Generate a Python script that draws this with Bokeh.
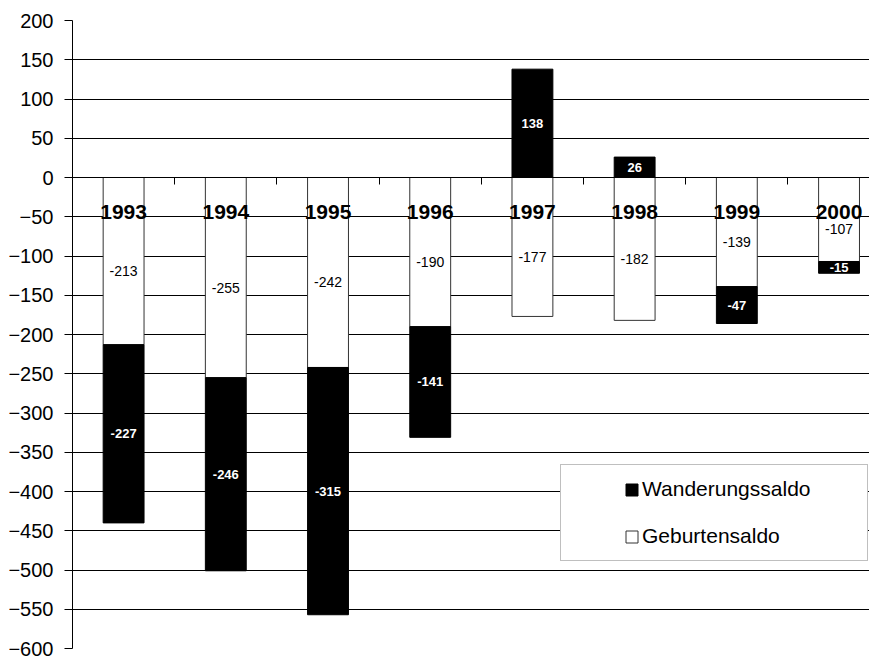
from bokeh.plotting import figure
from bokeh.models import Range1d, FixedTicker, Legend, LegendItem
from bokeh.core.properties import value
from bokeh.embed import file_html
from bokeh.resources import INLINE

years = ["1993", "1994", "1995", "1996", "1997", "1998", "1999", "2000"]
geburtensaldo = [-213, -255, -242, -190, -177, -182, -139, -107]
wanderungssaldo = [-227, -246, -315, -141, 138, 26, -47, -15]
y_ticks = list(range(-600, 201, 50))

FONT = "Liberation Sans"

xs = list(range(len(years)))
w_bottom = [g if w < 0 else 0 for g, w in zip(geburtensaldo, wanderungssaldo)]
w_top = [b + w for b, w in zip(w_bottom, wanderungssaldo)]
w_mid = [(b + t) / 2 for b, t in zip(w_bottom, w_top)]
g_mid = [g / 2 for g in geburtensaldo]

p = figure(width=869, height=660, output_backend="svg", toolbar_location=None,
           x_range=Range1d(-0.5, 7.298), y_range=Range1d(-600, 200),
           min_border_left=72, min_border_right=0, min_border_top=20, min_border_bottom=12)
p.outline_line_color = None
p.background_fill_color = "white"
p.border_fill_color = "white"

# grid
p.xgrid.visible = False
p.ygrid.ticker = FixedTicker(ticks=y_ticks)
p.ygrid.grid_line_color = "black"
p.ygrid.grid_line_width = 1

# y axis
p.yaxis.ticker = FixedTicker(ticks=y_ticks)
p.yaxis.major_tick_out = 8
p.yaxis.major_tick_in = 0
p.yaxis.minor_tick_line_color = None
p.yaxis.axis_line_color = "black"
p.yaxis.major_tick_line_color = "black"
p.yaxis.major_label_text_font = FONT
p.yaxis.major_label_text_font_size = "20px"
p.yaxis.major_label_text_color = "black"
p.yaxis.major_label_standoff = 11

# x axis at zero
p.xaxis.fixed_location = 0
p.xaxis.ticker = FixedTicker(ticks=[i + 0.5 for i in xs])
p.xaxis.major_tick_out = 7
p.xaxis.major_tick_in = 0
p.xaxis.minor_tick_line_color = None
p.xaxis.axis_line_color = "black"
p.xaxis.major_tick_line_color = "black"
p.xaxis.major_label_text_font_size = "0px"
p.xaxis.major_label_text_color = None
p.xaxis.major_label_standoff = 0

# bars
r_g = p.vbar(x=xs, top=[0] * len(xs), bottom=geburtensaldo, width=0.4,
             fill_color="white", line_color="#333333", line_width=1)
r_w = p.vbar(x=xs, top=w_top, bottom=w_bottom, width=0.4,
             fill_color="black", line_color="black", line_width=1)

# value labels
p.text(x=xs, y=g_mid, text=[str(v) for v in geburtensaldo], text_align="center",
       text_baseline="middle", y_offset=10, text_font=value(FONT),
       text_font_size="14px", text_color="black")
p.text(x=xs, y=w_mid, text=[str(v) for v in wanderungssaldo], text_align="center",
       text_baseline="middle", text_font=value(FONT), text_font_size="13px",
       text_font_style="bold", text_color="white")

# year labels below the zero axis
p.text(x=xs, y=[0] * len(xs), text=years, text_align="center", text_baseline="top",
       y_offset=27, text_font=value(FONT), text_font_size="21px",
       text_font_style="bold", text_color="black")

# legend box
dummy = p.vbar(x=[0], top=[0], bottom=[0], width=0.0, fill_alpha=0, line_alpha=0)
box = Legend(items=[LegendItem(label=" ", renderers=[dummy])], location=(488, 87),
             padding=0, margin=0, glyph_width=1, glyph_height=95, label_width=305,
             label_height=95, label_standoff=0, spacing=0,
             border_line_color="#808080", border_line_width=1,
             background_fill_color="white", background_fill_alpha=1)
p.add_layout(box, "center")

leg = Legend(items=[LegendItem(label="Wanderungssaldo", renderers=[r_w]),
                    LegendItem(label="Geburtensaldo", renderers=[r_g])],
             location=(552, 100), padding=0, margin=0, glyph_width=15, glyph_height=15,
             label_standoff=3, spacing=23, label_height=20,
             label_text_font=FONT, label_text_font_size="21px", label_text_color="black",
             border_line_color=None, background_fill_alpha=0)
p.add_layout(leg, "center")

open("out.html", "w").write(file_html(p, INLINE))
